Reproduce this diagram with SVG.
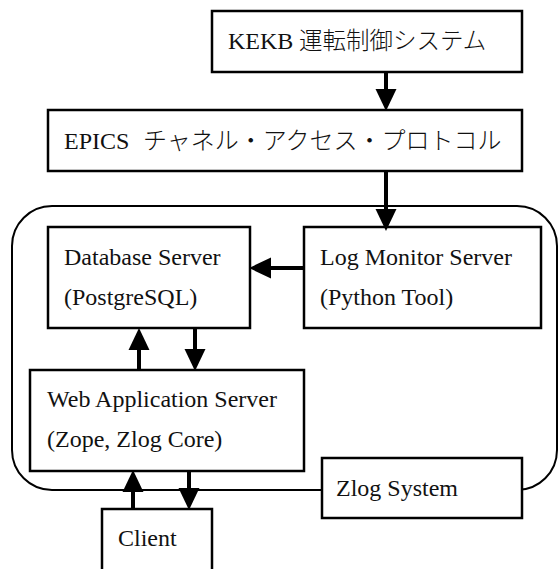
<svg xmlns="http://www.w3.org/2000/svg" width="558" height="569" viewBox="0 0 558 569">
<style>
.box{fill:#fff;stroke:#000;stroke-width:2.5}
.frame{fill:none;stroke:#000;stroke-width:2}
.t{font-family:"Liberation Serif","Noto Sans CJK JP",serif;font-size:24px;fill:#111}
.jp{font-family:"Noto Sans CJK JP","Liberation Serif",serif;font-weight:300}
.ar{stroke:#000;stroke-width:4;fill:none;marker-end:url(#ah)}
</style>
<defs>
<marker id="ah" markerUnits="userSpaceOnUse" markerWidth="22" markerHeight="22" viewBox="0 0 21 20" refX="0" refY="10" orient="auto">
<path d="M0,0 L21,10 L0,20 z" fill="#000"/>
</marker>
</defs>
<rect width="558" height="569" fill="#fff"/>
<g id="zlog-frame">
<rect class="frame" x="12" y="206" width="545" height="284" rx="40" ry="40"/>
</g>
<g id="kekb">
<rect class="box" x="212" y="11" width="310" height="61"/>
<text class="t" x="228" y="49">KEKB<tspan class="jp" x="299" font-size="23.5">運転制御システム</tspan></text>
</g>
<g id="epics">
<rect class="box" x="48" y="110" width="474" height="61"/>
<text class="t" x="64" y="149">EPICS<tspan class="jp" x="143" font-size="24">チャネル・アクセス・プロトコル</tspan></text>
</g>
<g id="database">
<rect class="box" x="48" y="227" width="202" height="101"/>
<text class="t" x="64" y="265">Database Server</text>
<text class="t" x="64" y="305">(PostgreSQL)</text>
</g>
<g id="logmonitor">
<rect class="box" x="304" y="227" width="237" height="101"/>
<text class="t" x="320" y="265">Log Monitor Server</text>
<text class="t" x="320" y="305">(Python Tool)</text>
</g>
<g id="webapp">
<rect class="box" x="30" y="370" width="274" height="101"/>
<text class="t" x="47" y="407">Web Application Server</text>
<text class="t" x="47" y="447">(Zope, Zlog Core)</text>
</g>
<g id="zlogsystem">
<rect class="box" x="322" y="458" width="200" height="60"/>
<text class="t" x="336" y="496">Zlog System</text>
</g>
<g id="client">
<rect class="box" x="102" y="509" width="110" height="75"/>
<text class="t" x="118" y="546">Client</text>
</g>
<g id="connectors">
<line class="ar" x1="386" y1="72" x2="386" y2="89"/>
<line class="ar" x1="386" y1="171" x2="386" y2="209"/>
<line class="ar" x1="304" y1="268" x2="271" y2="268"/>
<line class="ar" x1="139" y1="370" x2="139" y2="350"/>
<line class="ar" x1="195" y1="328" x2="195" y2="349"/>
<line class="ar" x1="133" y1="509" x2="133" y2="492"/>
<line class="ar" x1="189" y1="471" x2="189" y2="488"/>
</g>
</svg>
